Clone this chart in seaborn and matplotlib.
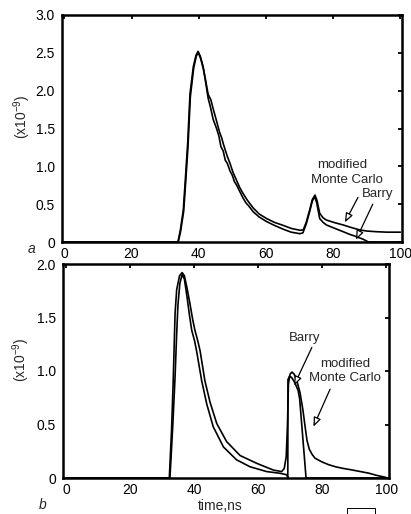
import matplotlib
matplotlib.use("Agg")
import matplotlib.pyplot as plt
from matplotlib.patches import Rectangle
import seaborn as sns
import pandas as pd

# ---------------- data ----------------
# Panel a
a_mc_time = [0, 33.8, 34.5, 35.4, 36.0, 36.7, 37.4, 38.4, 39.2, 39.8, 40.5, 41.3, 42.0, 42.8,
             43.6, 44.3, 45.3, 46.2, 46.8, 47.3, 48.0, 48.6, 49.3, 50.2, 51.2, 52.2, 53.2,
             54.5, 56.2, 58.0, 60.2, 62.5, 65.1, 67.5, 70.1, 71.1, 72.0, 73.0, 73.8, 74.6,
             75.2, 76.0, 77.0, 78.0, 80.5, 83.0, 85.5, 87.9, 90.0, 92.9, 96.0, 100]
a_mc_val = [0, 0, 0.15, 0.42, 0.82, 1.30, 1.96, 2.32, 2.47, 2.52, 2.45, 2.32, 2.15, 1.95,
            1.88, 1.76, 1.60, 1.45, 1.38, 1.30, 1.20, 1.12, 1.04, 0.92, 0.82, 0.72, 0.64,
            0.55, 0.45, 0.37, 0.31, 0.26, 0.22, 0.18, 0.155, 0.16, 0.26, 0.42, 0.56, 0.62,
            0.55, 0.38, 0.32, 0.29, 0.255, 0.225, 0.19, 0.16, 0.145, 0.136, 0.13, 0.13]
a_barry_time = [0, 33.9, 34.6, 35.5, 36.1, 36.8, 37.5, 38.5, 39.3, 39.9, 40.6, 41.4, 42.1,
                42.8, 43.5, 44.3, 45.3, 46.0, 46.6, 47.3, 47.9, 48.5, 49.3, 50.0, 50.6,
                51.3, 52.3, 53.2, 54.0, 55.0, 56.2, 58.0, 60.2, 62.5, 65.1, 67.5, 70.1,
                71.0, 72.0, 73.0, 73.8, 74.5, 75.1, 76.0, 77.0, 78.0, 80.5, 83.0, 85.0,
                87.0, 89.0, 90.5, 100]
a_barry_val = [0, 0, 0.14, 0.40, 0.78, 1.26, 1.92, 2.30, 2.46, 2.50, 2.42, 2.28, 2.10,
               1.90, 1.78, 1.62, 1.50, 1.40, 1.26, 1.20, 1.08, 1.04, 0.94, 0.88, 0.80,
               0.75, 0.66, 0.58, 0.52, 0.47, 0.40, 0.33, 0.27, 0.22, 0.17, 0.13, 0.11,
               0.12, 0.24, 0.40, 0.54, 0.60, 0.52, 0.31, 0.26, 0.225, 0.18, 0.136, 0.10,
               0.07, 0.035, 0.0, 0.0]

# Panel b
b_mc_time = [0, 32.3, 33.0, 33.5, 34.1, 34.6, 35.5, 36.3, 37.0, 37.8, 38.8, 39.6, 40.3,
             41.2, 41.9, 43.4, 45.0, 47.1, 50.2, 54.4, 59.6, 64.8, 67.4, 68.2, 68.8, 69.2,
             69.5, 70.0, 70.6, 71.3, 72.2, 73.1, 74.0, 74.7, 75.3, 76.0, 76.9, 77.8, 80.0,
             82.0, 84.2, 86.5, 89.4, 92.0, 94.6, 97.0, 100]
b_mc_val = [0, 0, 0.45, 0.89, 1.54, 1.76, 1.89, 1.92, 1.89, 1.78, 1.62, 1.48, 1.38,
            1.28, 1.19, 0.91, 0.71, 0.51, 0.34, 0.21, 0.137, 0.074, 0.06, 0.09, 0.20, 0.50,
            0.88, 0.97, 0.99, 0.97, 0.90, 0.80, 0.64, 0.48, 0.35, 0.27, 0.22, 0.185, 0.15,
            0.125, 0.105, 0.09, 0.075, 0.06, 0.045, 0.025, 0.005]
b_barry_time = [0, 32.5, 33.4, 34.1, 34.6, 35.0, 35.6, 36.3, 37.0, 37.8, 38.6, 39.3, 40.2,
                40.8, 42.4, 44.0, 46.0, 49.2, 53.3, 57.5, 62.7, 66.9, 69.0, 69.3, 69.35,
                69.8, 70.5, 71.5, 72.5, 73.0, 75.0, 100]
b_barry_val = [0, 0, 0.50, 0.95, 1.35, 1.62, 1.82, 1.90, 1.86, 1.70, 1.52, 1.38, 1.28,
               1.19, 0.91, 0.69, 0.48, 0.29, 0.17, 0.105, 0.06, 0.044, 0.03, 0.0, 0.92,
               0.95, 0.94, 0.89, 0.82, 0.74, 0.0, 0.0]

x_ticks = [0, 20, 40, 60, 80, 100]
x_tick_labels = ["0", "20", "40", "60", "80", "100"]
a_y_ticks = [0, 0.5, 1.0, 1.5, 2.0, 2.5, 3.0]
a_y_tick_labels = ["0", "0.5", "1.0", "1.5", "2.0", "2.5", "3.0"]
b_y_ticks = [0, 0.5, 1.0, 1.5, 2.0]
b_y_tick_labels = ["0", "0.5", "1.0", "1.5", "2.0"]

# ---------------- style ----------------
sns.set_style("white")
plt.rcParams["font.family"] = ["Liberation Sans", "DejaVu Sans"]
plt.rcParams["mathtext.fontset"] = "custom"
plt.rcParams["mathtext.rm"] = "Liberation Sans"
plt.rcParams["mathtext.it"] = "Liberation Sans:italic"

fig = plt.figure(figsize=(4.11, 5.14), dpi=100)
W, H = 411.0, 514.0
ax1 = fig.add_axes([62 / W, (H - 242) / H, 340 / W, 227 / H])
ax2 = fig.add_axes([63 / W, (H - 478) / H, 326 / W, 214 / H])


def draw(ax, t1, v1, t2, v2):
    df1 = pd.DataFrame({"time": t1, "value": v1})
    df2 = pd.DataFrame({"time": t2, "value": v2})
    sns.lineplot(data=df1, x="time", y="value", ax=ax, color="black", lw=1.2,
                 estimator=None, sort=False)
    sns.lineplot(data=df2, x="time", y="value", ax=ax, color="black", lw=1.2,
                 estimator=None, sort=False)


draw(ax1, a_mc_time, a_mc_val, a_barry_time, a_barry_val)
draw(ax2, b_mc_time, b_mc_val, b_barry_time, b_barry_val)

for ax, yt, ytl, xl, yl in [(ax1, a_y_ticks, a_y_tick_labels, (-0.7, 100.5), (0, 3.0)),
                             (ax2, b_y_ticks, b_y_tick_labels, (-0.9, 100.9), (0, 2.0))]:
    ax.set_xlim(*xl)
    ax.set_ylim(*yl)
    ax.set_xticks(x_ticks)
    ax.set_xticklabels(x_tick_labels)
    ax.set_yticks(yt)
    ax.set_yticklabels(ytl)
    ax.set_xlabel("")
    ax.set_ylabel("")
    for s in ax.spines.values():
        s.set_visible(True)
        s.set_linewidth(1.8)
        s.set_color("black")
    ax.tick_params(axis="both", direction="in", length=3, width=1.3,
                   top=True, right=True, labelsize=10, colors="black")
    ax.tick_params(axis="y", pad=5)
    ax.tick_params(axis="x", pad=3.5)

# y-axis labels
fig.text(22 / W, 1 - 117 / H, r"(x10$^{\mathregular{-9}}$)", rotation=90,
         ha="center", va="center", fontsize=10)
fig.text(21 / W, 1 - 360 / H, r"(x10$^{\mathregular{-9}}$)", rotation=90,
         ha="center", va="center", fontsize=10)

# panel letters and x label
fig.text(32 / W, 1 - 249 / H, "a", style="italic", ha="center", va="center", fontsize=10)
fig.text(43 / W, 1 - 505 / H, "b", style="italic", ha="center", va="center", fontsize=10)
fig.text(220 / W, 1 - 506 / H, "time,ns", ha="center", va="center", fontsize=10)

arrow = dict(arrowstyle="-|>,head_length=0.55,head_width=0.22", fc="white",
             ec="black", lw=0.9, shrinkA=0, shrinkB=0)

# panel a annotations
ax1.text(82.6, 1.02, "modified", ha="center", va="center", fontsize=9.5)
ax1.text(84.1, 0.82, "Monte Carlo", ha="center", va="center", fontsize=9.5)
ax1.text(93.3, 0.63, "Barry", ha="center", va="center", fontsize=9.5)
ax1.annotate("", xy=(83.5, 0.26), xytext=(87.4, 0.59), arrowprops=arrow)
ax1.annotate("", xy=(86.8, 0.03), xytext=(91.8, 0.50), arrowprops=arrow)

# panel b annotations
ax2.text(74.7, 1.31, "Barry", ha="center", va="center", fontsize=9.5)
ax2.text(87.2, 1.07, "modified", ha="center", va="center", fontsize=9.5)
ax2.text(87.2, 0.93, "Monte Carlo", ha="center", va="center", fontsize=9.5)
ax2.annotate("", xy=(71.25, 0.865), xytext=(76.8, 1.22), arrowprops=arrow)
ax2.annotate("", xy=(77.3, 0.48), xytext=(82.5, 0.83), arrowprops=arrow)

# small box at the bottom right
fig.patches.append(Rectangle((347 / W, 0), 28 / W, 6 / H, transform=fig.transFigure,
                             fill=False, ec="black", lw=0.7))

fig.savefig("out.png", dpi=100)
